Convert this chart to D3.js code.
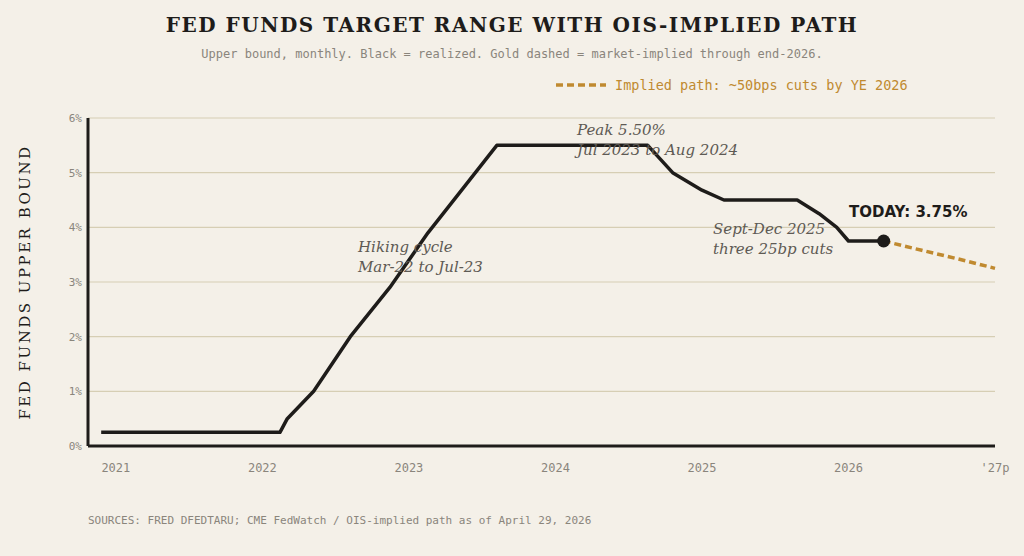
<!DOCTYPE html>
<html><head><meta charset="UTF-8">
<script src="https://d3js.org/d3.v7.min.js"></script>
<style>
body{margin:0;background:#f4f0e8;}
svg{display:block;}
</style></head>
<body><svg width="1024" height="556"></svg>
<script>
// realized upper bound (decimal year, %)
const realizedT = [2020.9,2022.12,2022.17,2022.35,2022.6,2022.87,2023.13,2023.38,2023.6,2024.63,2024.8,2025.0,2025.15,2025.65,2025.8,2025.92,2026.0,2026.24];
const realizedV = [0.25,0.25,0.5,1.0,2.0,2.9,3.9,4.75,5.5,5.5,5.0,4.68,4.5,4.5,4.25,4.0,3.75,3.75];
const impliedT = [2026.24,2026.5,2026.75,2027.0];
const impliedV = [3.75,3.58,3.42,3.25];
const yTicks = [0,1,2,3,4,5,6];
const xTicks = [2021,2022,2023,2024,2025,2026,2027];
const xLabels = ["2021","2022","2023","2024","2025","2026","'27p"];

const svg = d3.select("svg");
const ink = "#1e1c1a", gold = "#c08a30", grey = "#8a857c";
const x = d3.scaleLinear().domain([2020.81,2027.0]).range([88,995]);
const y = d3.scaleLinear().domain([0,6]).range([446,118]);

svg.append("text").attr("x",512).attr("y",32).attr("text-anchor","middle")
  .attr("font-family","DejaVu Serif").attr("font-weight","bold").attr("font-size",20)
  .attr("letter-spacing",1.5).attr("fill",ink).text("FED FUNDS TARGET RANGE WITH OIS-IMPLIED PATH");
svg.append("text").attr("x",512).attr("y",58).attr("text-anchor","middle")
  .attr("font-family","DejaVu Sans Mono").attr("font-size",12).attr("fill",grey)
  .text("Upper bound, monthly. Black = realized. Gold dashed = market-implied through end-2026.");
svg.append("line").attr("x1",556).attr("x2",606).attr("y1",85).attr("y2",85)
  .attr("stroke",gold).attr("stroke-width",3.5).attr("stroke-dasharray","7,4");
svg.append("text").attr("x",615).attr("y",90).attr("font-family","DejaVu Sans Mono")
  .attr("font-size",13.5).attr("fill",gold).text("Implied path: ~50bps cuts by YE 2026");

// grid + y axis
svg.append("g").selectAll("line").data(yTicks.slice(1)).join("line")
  .attr("x1",88).attr("x2",995).attr("y1",d=>y(d)).attr("y2",d=>y(d))
  .attr("stroke","#d6ceb4").attr("stroke-width",1.2);
svg.append("g").selectAll("text").data(yTicks).join("text")
  .attr("x",82).attr("y",d=>y(d)+4).attr("text-anchor","end")
  .attr("font-family","DejaVu Sans Mono").attr("font-size",11).attr("fill",grey).text(d=>d+"%");
svg.append("line").attr("x1",88).attr("x2",88).attr("y1",118).attr("y2",446).attr("stroke",ink).attr("stroke-width",3);
svg.append("line").attr("x1",88).attr("x2",995).attr("y1",446).attr("y2",446).attr("stroke",ink).attr("stroke-width",3);
svg.append("g").selectAll("text").data(xTicks).join("text")
  .attr("x",d=>x(d)).attr("y",472).attr("text-anchor","middle")
  .attr("font-family","DejaVu Sans Mono").attr("font-size",12).attr("fill",grey).text((d,i)=>xLabels[i]);
svg.append("text").attr("transform","translate(30,282) rotate(-90)").attr("text-anchor","middle")
  .attr("font-family","DejaVu Serif").attr("font-size",15).attr("letter-spacing",2.5).attr("fill",ink)
  .text("FED FUNDS UPPER BOUND");

const line = d3.line().x(d=>x(d[0])).y(d=>y(d[1]));
svg.append("path").datum(impliedT.map((t,i)=>[t,impliedV[i]])).attr("d",line.curve(d3.curveMonotoneX))
  .attr("fill","none").attr("stroke",gold).attr("stroke-width",3.5).attr("stroke-dasharray","7,4");
svg.append("path").datum(realizedT.map((t,i)=>[t,realizedV[i]])).attr("d",line.curve(d3.curveLinear))
  .attr("fill","none").attr("stroke",ink).attr("stroke-width",3.5).attr("stroke-linejoin","round");
svg.append("circle").attr("cx",x(2026.24)).attr("cy",y(3.75)).attr("r",6.5).attr("fill",ink);

const ann = (tx,ty,lines)=>{
  const t = svg.append("text").attr("font-family","DejaVu Serif").attr("font-style","italic")
    .attr("font-size",15).attr("fill","#5e5a54");
  lines.forEach((l,i)=>t.append("tspan").attr("x",tx).attr("y",ty+i*20).text(l));
};
ann(358,252,["Hiking cycle","Mar-22 to Jul-23"]);
ann(577,135,["Peak 5.50%","Jul 2023 to Aug 2024"]);
ann(713,234,["Sept-Dec 2025","three 25bp cuts"]);
svg.append("text").attr("x",849).attr("y",217).attr("font-family","DejaVu Sans").attr("font-weight","bold")
  .attr("font-size",15).attr("fill",ink).text("TODAY: 3.75%");

svg.append("text").attr("x",88).attr("y",524).attr("font-family","DejaVu Sans Mono").attr("font-size",11)
  .attr("fill",grey).text("SOURCES: FRED DFEDTARU; CME FedWatch / OIS-implied path as of April 29, 2026");
</script></body></html>
